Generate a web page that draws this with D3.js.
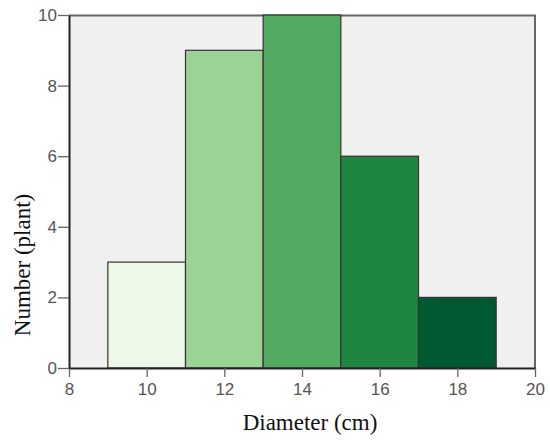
<!DOCTYPE html>
<html>
<head>
<meta charset="utf-8">
<script src="https://cdn.jsdelivr.net/npm/d3@7"></script>
<style>
  body { margin: 0; background: #fff; }
  .tick text { font-family: Arial, "Liberation Sans", sans-serif; font-size: 17px; fill: #555; }
  .axisTitle { font-family: "Liberation Serif", "Times New Roman", serif; font-size: 23px; fill: #111; }
</style>
</head>
<body>
<script>
var svgWidth = 550;
var svgHeight = 440;

var margin = { top: 15, right: 15, bottom: 72, left: 69 };
var width = 535 - margin.left;
var height = 368 - margin.top;

// histogram bins (cm) and counts
var binStart = [9, 11, 13, 15, 17];
var binEnd = [11, 13, 15, 17, 19];
var counts = [3, 9, 10, 6, 2];
var barColors = ["#eef8e9", "#9ad394", "#52aa60", "#1f8642", "#005a31"];
var xTicks = [8, 10, 12, 14, 16, 18, 20];
var yTicks = [0, 2, 4, 6, 8, 10];

var svg = d3.select("body")
  .append("svg")
  .attr("width", svgWidth)
  .attr("height", svgHeight);

var chartGroup = svg.append("g")
  .attr("transform", `translate(${margin.left}, ${margin.top})`);

var xScale = d3.scaleLinear().domain([8, 20]).range([0, width]);
var yScale = d3.scaleLinear().domain([0, 10]).range([height, 0]);

// plot background
chartGroup.append("rect")
  .attr("width", width)
  .attr("height", height)
  .attr("fill", "#f0f0f0");

// top and right frame
chartGroup.append("path")
  .attr("d", `M0,0.5H${width}V${height}`)
  .attr("fill", "none")
  .attr("stroke", "#666")
  .attr("stroke-width", 2);

// bars
chartGroup.selectAll(".bar")
  .data(counts)
  .enter()
  .append("rect")
  .attr("class", "bar")
  .attr("x", (d, i) => xScale(binStart[i]))
  .attr("y", d => yScale(d))
  .attr("width", (d, i) => xScale(binEnd[i]) - xScale(binStart[i]))
  .attr("height", d => height - yScale(d))
  .attr("fill", (d, i) => barColors[i])
  .attr("stroke", "#333")
  .attr("stroke-width", 1.2);

// axes
var bottomAxis = d3.axisBottom(xScale).tickValues(xTicks).tickSize(9).tickSizeOuter(0).tickPadding(6);
var leftAxis = d3.axisLeft(yScale).tickValues(yTicks).tickSize(11).tickSizeOuter(0).tickPadding(1);

var xg = chartGroup.append("g")
  .attr("transform", `translate(0, ${height})`)
  .call(bottomAxis);

var yg = chartGroup.append("g")
  .call(leftAxis);

[xg, yg].forEach(function(g) {
  g.select(".domain").attr("stroke", "#222").attr("stroke-width", 2);
  g.selectAll(".tick line").attr("stroke", "#666").attr("stroke-width", 1.3);
});

// axis titles
svg.append("text")
  .attr("class", "axisTitle")
  .attr("transform", "rotate(-90)")
  .attr("x", -265)
  .attr("y", 30)
  .attr("text-anchor", "middle")
  .text("Number (plant)");

svg.append("text")
  .attr("class", "axisTitle")
  .attr("x", 310)
  .attr("y", 430)
  .attr("text-anchor", "middle")
  .text("Diameter (cm)");
</script>
</body>
</html>
